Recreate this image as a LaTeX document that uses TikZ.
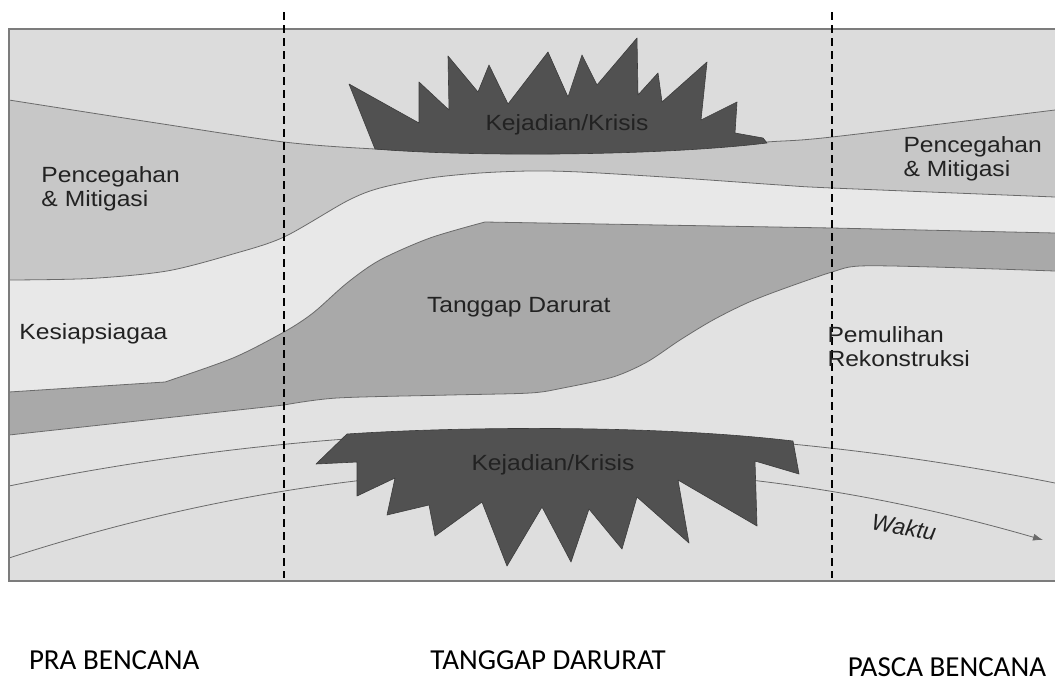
\documentclass[tikz,border=0pt]{standalone}
\usepackage{fontspec}
\usetikzlibrary{arrows.meta}
\newfontfamily\labfont[FakeStretch=1.12]{Liberation Sans}
\newfontfamily\itfont{Liberation Sans}
\newfontfamily\calfont{Carlito}
\definecolor{bgtop}{HTML}{DCDCDC}
\definecolor{prev}{HTML}{C7C7C7}
\definecolor{siap}{HTML}{E8E8E8}
\definecolor{tang}{HTML}{A9A9A9}
\definecolor{pemu}{HTML}{E2E2E2}
\definecolor{low}{HTML}{DEDEDE}
\definecolor{crisis}{HTML}{515151}
\definecolor{crisisedge}{HTML}{3C3C3C}
\definecolor{edge}{HTML}{6A6A6A}
\definecolor{txt}{HTML}{222222}
\definecolor{framec}{HTML}{7C7C7C}
\tikzset{
  lbl/.style={inner sep=0pt, outer sep=0pt, text=txt, font=\labfont\fontsize{22}{23.5}\selectfont},
  lbltwo/.style={lbl, align=left, anchor=north west},
  band/.style={draw=edge, line width=0.8pt},
  crisisshape/.style={fill=crisis, draw=crisisedge, line width=0.6pt, line join=round},
  dashline/.style={draw=black, line width=1.8pt, dash pattern=on 8pt off 5pt},
  bottomlbl/.style={inner sep=0pt, outer sep=0pt, text=black, font=\calfont\fontsize{29}{34}\selectfont},
}
\begin{document}
\begin{tikzpicture}[x=1pt,y=-1pt]
\useasboundingbox (0,0) rectangle (1055,681);
\fill[white] (0,0) rectangle (1055,681);
% frame background
\fill[bgtop] (9,29) rectangle (1055,581);
% Pencegahan band (below A)
\fill[prev] plot[smooth, tension=0.5] coordinates {(9,100) (150,122) (284,142) (375,149) (470,152.5) (560,153.5) (680,149) (767,142) (832,137) (1055,110)} -- (1055,581) -- (9,581) -- cycle;
% Kesiapsiagaan band (below B)
\fill[siap] plot[smooth, tension=0.5] coordinates {(9,280) (90,278.5) (167,271) (233,254) (284,237) (347,201) (380,188) (430,178) (480,173) (530,171) (580,172) (680,178) (780,185) (832,188) (1055,197)} -- (1055,581) -- (9,581) -- cycle;
% Tanggap band (below C)
\fill[tang] (9,392) -- plot[smooth, tension=0.5] coordinates {(165,382) (233,358) (284,332) (313,313) (347,283) (380,260) (430,238) (485,222)} -- (832,228) -- (1055,233) -- (1055,581) -- (9,581) -- cycle;
% Pemulihan region (below D)
\fill[pemu] (9,435) -- plot[smooth, tension=0.5] coordinates {(284,405) (337,398) (450,395) (530,393) (563,388) (613,377) (647,362) (680,340) (713,320) (747,303) (780,290) (832,272) (860,266) (933,267) (1055,271)} -- (1055,581) -- (9,581) -- cycle;
% lower region (below E)
\fill[low] (9,486) .. controls (357.7,414.7) and (706.3,413.7) .. (1055,483) -- (1055,581) -- (9,581) -- cycle;
% boundary lines
\draw[band] plot[smooth, tension=0.5] coordinates {(9,100) (150,122) (284,142) (375,149) (470,152.5) (560,153.5) (680,149) (767,142) (832,137) (1055,110)};
\draw[band] plot[smooth, tension=0.5] coordinates {(9,280) (90,278.5) (167,271) (233,254) (284,237) (347,201) (380,188) (430,178) (480,173) (530,171) (580,172) (680,178) (780,185) (832,188) (1055,197)};
\draw[band] (9,392) -- plot[smooth, tension=0.5] coordinates {(165,382) (233,358) (284,332) (313,313) (347,283) (380,260) (430,238) (485,222)} -- (832,228) -- (1055,233);
\draw[band] (9,435) -- plot[smooth, tension=0.5] coordinates {(284,405) (337,398) (450,395) (530,393) (563,388) (613,377) (647,362) (680,340) (713,320) (747,303) (780,290) (832,272) (860,266) (933,267) (1055,271)};
\draw[band] (9,486) .. controls (357.7,414.7) and (706.3,413.7) .. (1055,483);
% Waktu arrow
\coordinate (wstart) at (9,558);
\coordinate (wend) at (1043,540);
\draw[draw=edge, line width=0.8pt, -{Latex[length=10pt,width=7pt]}] (wstart) .. controls (354,446) and (698,440) .. (wend);
% top crisis
\draw[crisisshape] (375,149) -- (349,84) -- (419,123) -- (419,82) -- (449,110) -- (448,56) -- (478,92) -- (489,65) -- (508,104) -- (548,52) -- (568,97) -- (582,55) -- (597,85) -- (637,38) -- (638,95) -- (658,73) -- (662,102) -- (707,62) -- (701,120) -- (737,102) -- (735,133) -- (763,138) -- (767,143) .. controls (660,156) and (470,157) .. (375,149) -- cycle;
% bottom crisis
\draw[crisisshape] (347,434) .. controls (450,427) and (650,424) .. (793,441) -- (799,474) -- (755,461) -- (757,526) -- (678,480) -- (689,543) -- (637,497) -- (622,549) -- (589,509) -- (571,562) -- (542,507) -- (507,566) -- (482,502) -- (435,536) -- (429,505) -- (387,515) -- (395,478) -- (357,496) -- (357,462) -- (316,464) -- cycle;
% frame border
\draw[framec, line width=1.2pt] (1055,29) -- (9,29) -- (9,581) -- (1055,581);
% phase dividers
\draw[dashline] (284,12) -- (284,578);
\draw[dashline] (832,12) -- (832,578);
% labels
\node[lbltwo] (pencL) at (41.5,166.7) {Pencegahan\\\& Mitigasi};
\node[lbltwo, font=\labfont\fontsize{22}{24.2}\selectfont] (pencR) at (903.5,136.7) {Pencegahan\\\& Mitigasi};
\node[lbl, anchor=base west] (kes) at (19.5,339.3) {Kesiapsiagaa};
\node[lbl, anchor=base west] (tang) at (427,312.3) {Tanggap Darurat};
\node[lbltwo, font=\labfont\fontsize{22}{24.3}\selectfont] (pem) at (827.5,326.7) {Pemulihan\\Rekonstruksi};
\node[lbl, anchor=base west] (krisA) at (485.5,130) {Kejadian/Krisis};
\node[lbl, anchor=base west] (krisB) at (471.5,470.7) {Kejadian/Krisis};
\node[lbl, font=\itfont\itshape\fontsize{23}{26}\selectfont, rotate=-10] (waktu) at (904,527) {Waktu};
% phase names
\node[bottomlbl, anchor=base west] (pra) at (29,669) {PRA BENCANA};
\node[bottomlbl, anchor=base] (tdr) at (548,669) {TANGGAP DARURAT};
\node[bottomlbl, anchor=base east] (pasca) at (1046,676) {PASCA BENCANA};
\end{tikzpicture}
\end{document}
